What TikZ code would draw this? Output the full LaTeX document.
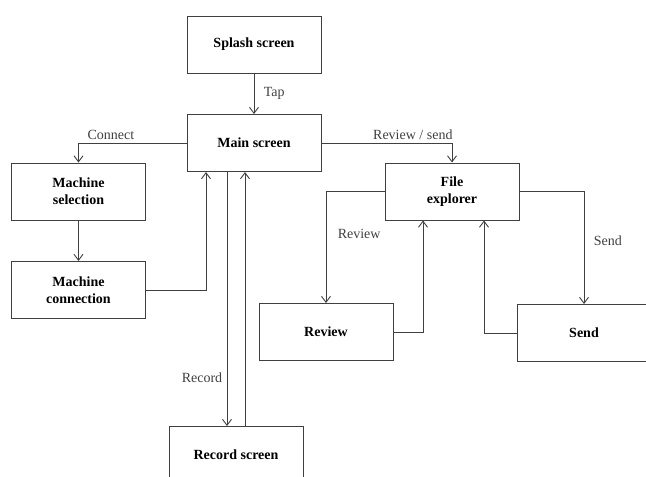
\documentclass[tikz,border=0pt]{standalone}
\usepackage{fontspec}
\setmainfont{Liberation Serif}
\usetikzlibrary{arrows.meta}
\tikzset{
  screen/.style={draw=black!75, line width=1pt, minimum width=134pt, minimum height=57pt,
    inner sep=0pt, align=center, font=\fontsize{14}{17}\selectfont\bfseries},
  flow/.style={draw=black!75, line width=0.9pt, -{Straight Barb[length=6pt,width=9pt]}},
  lbl/.style={font=\fontsize{14}{17}\selectfont, text=black!75}
}
\begin{document}
\begin{tikzpicture}[x=1pt,y=-1pt]
        \useasboundingbox (0,0) rectangle (646,477);
        \clip (0,0) rectangle (646,477);
        \node[screen] (splash) at (254,44.5) {Splash screen};
        \node[screen] (main) at (254,143) {Main screen};
        \node[screen] (msel) at (78.5,191.5) {Machine\\selection};
        \node[screen] (mcon) at (78.5,290) {Machine\\connection};
        \node[screen] (files) at (452,191.5) {File\\explorer};
        \node[screen] (review) at (326,332) {Review};
        \node[screen] (send) at (584,333) {Send};
        \node[screen] (record) at (236,455) {Record screen};
        \draw[flow] (splash) -- node[lbl, right=6pt] {Tap} (main);
        \draw[flow] (main.west) -| node[lbl, above, pos=0.35] {Connect} (msel.north);
        \draw[flow] (msel) -- (mcon);
        \draw[flow] (mcon.east) -| ([xshift=-48pt]main.south);
        \draw[flow] (main.east) -| node[lbl, above, pos=0.35] {Review / send} (files.north);
        \draw[flow] (files.west) -| node[lbl, right=8pt, pos=0.69] {Review} (review.north);
        \draw[flow] (review.east) -| ([xshift=-29pt]files.south);
        \draw[flow] (files.east) -| node[lbl, right=6pt, pos=0.72] {Send} (send.north);
        \draw[flow] (send.west) -| ([xshift=32pt]files.south);
        \draw[flow] ([xshift=-27pt]main.south) -- node[lbl, left=1pt, pos=0.81] {Record} ([xshift=-9pt]record.north);
        \draw[flow] ([xshift=9pt]record.north) -- ([xshift=-9pt]main.south);
\end{tikzpicture}
\end{document}
